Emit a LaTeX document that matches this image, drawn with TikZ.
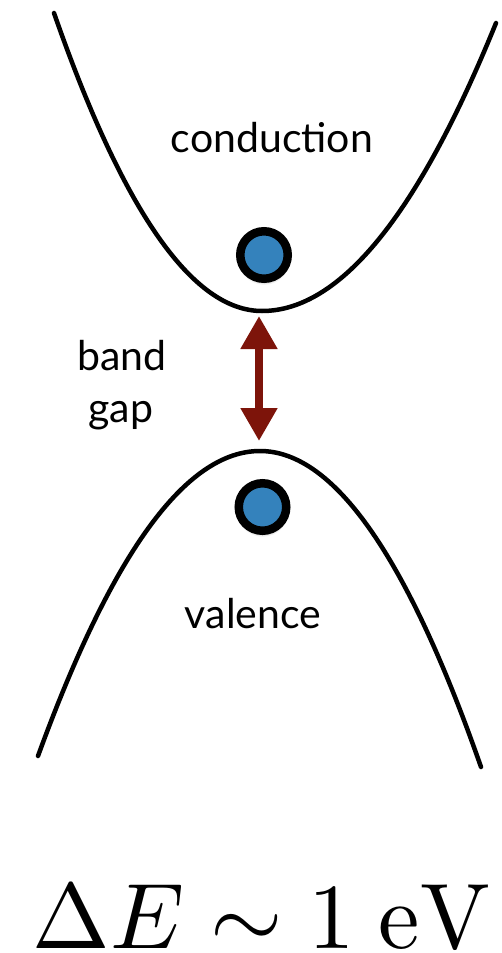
\documentclass[tikz,border=0pt]{standalone}
\usepackage[no-math]{fontspec}
\setmainfont{Lato}
\usetikzlibrary{arrows.meta,shadows}
\definecolor{gapred}{RGB}{125,20,10}
\definecolor{dotblue}{RGB}{52,130,188}
\begin{document}
\begin{tikzpicture}[x=1pt,y=-1pt,
  band/.style={line width=4.5pt,line cap=round},
  carrier/.style={circle,minimum size=47.5pt,inner sep=0pt,fill=dotblue,
    draw=black,line width=8.5pt,
    circular drop shadow={shadow xshift=0pt,shadow yshift=-3pt,shadow scale=1.12,opacity=0.35}},
  label/.style={font=\fontsize{41}{52}\selectfont,inner sep=0pt,anchor=base},
  gaparrow/.style={draw=gapred,line width=8pt,
    {Triangle[width=35pt,length=33pt]}-{Triangle[width=35pt,length=33pt]}}]
  \useasboundingbox (0,0) rectangle (501,953);

  % conduction band: two half-parabolas meeting at the minimum
  \coordinate (cmin) at (262,311);
  \draw[band] (54,13) .. controls (123.3,211.7) and (192.7,311) .. (cmin)
              .. controls (340,311) and (418,215) .. (496,23);

  % valence band: two half-parabolas meeting at the maximum
  \coordinate (vmax) at (260,451);
  \draw[band] (38,756) .. controls (112,552.7) and (186,451) .. (vmax)
              .. controls (333.7,451) and (407.3,556.3) .. (481,767);

  % carriers at the band edges
  \node[carrier] (electron) at (264,255) {};
  \node[carrier] (hole) at (262.5,507) {};

  % band gap arrow
  \coordinate (gaptop) at (259,316);
  \coordinate (gapbot) at (259,441);
  \draw[gaparrow] (gaptop) -- (gapbot);

  % labels
  \node[label] (cond) at (272,152) {conduction};
  \node[label] (val) at (253,628) {valence};
  \node[label] (gapa) at (122,370) {band};
  \node[label] (gapb) at (121,422) {gap};

  \node[inner sep=0pt,anchor=base,scale=9.3] (energy) at (262,948)
    {$\Delta E \sim 1\ \mathrm{eV}$};
\end{tikzpicture}
\end{document}
